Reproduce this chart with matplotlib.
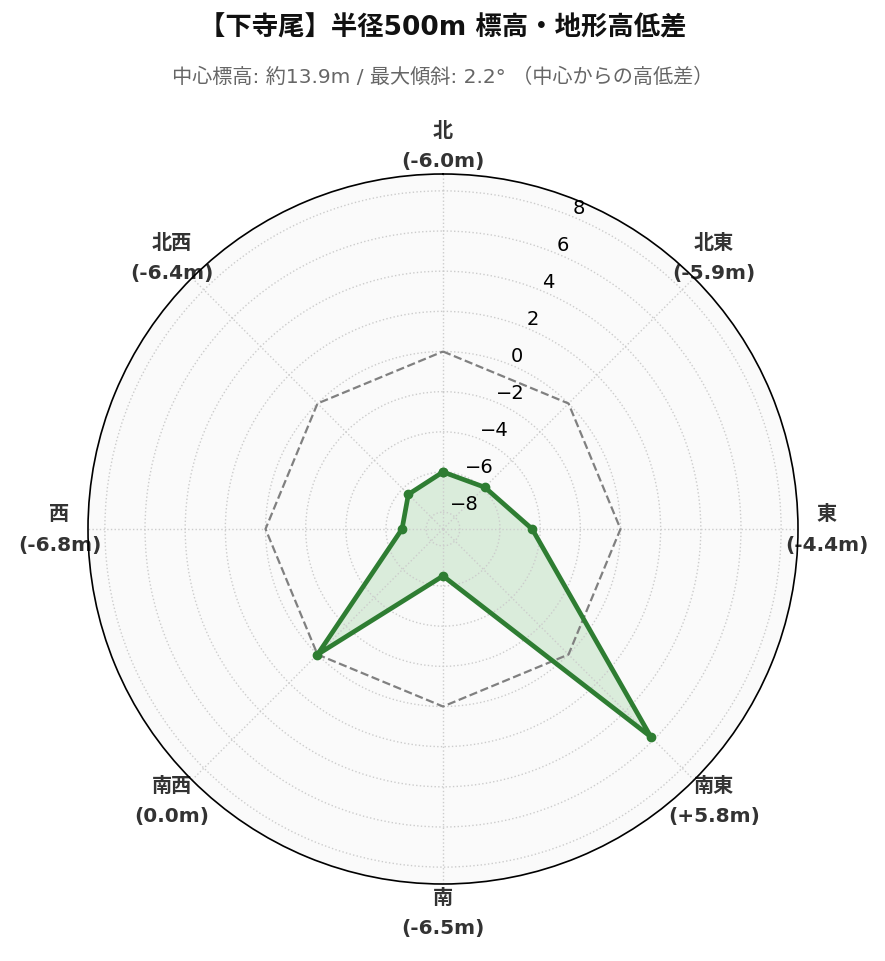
import numpy as np
import matplotlib
matplotlib.use("Agg")
import matplotlib.pyplot as plt

plt.rcParams['font.family'] = ['DejaVu Sans', 'Noto Sans CJK JP']

directions = ['北', '北東', '東', '南東', '南', '南西', '西', '北西']
diffs = [-6.0, -5.9, -4.4, 5.8, -6.5, 0.0, -6.8, -6.4]
rticks = [-8, -6, -4, -2, 0, 2, 4, 6, 8]
title = '【下寺尾】半径500m 標高・地形高低差'
subtitle = '中心標高: 約13.9m / 最大傾斜: 2.2° （中心からの高低差）'

fig = plt.figure(figsize=(8.85, 9.62), dpi=100)
ax = fig.add_axes([88/885, 77/962, 710/885, 710/962], projection='polar')
ax.set_theta_offset(np.pi/2)
ax.set_theta_direction(-1)
ax.set_facecolor('#fafafa')

n = len(directions)
angles = np.arange(n) * 2*np.pi/n
ang_c = np.append(angles, angles[0])
vals_c = np.append(diffs, diffs[0])

lim = max(abs(v) for v in diffs) * 1.3
ax.set_ylim(-lim, lim)

ax.plot(ang_c, np.zeros_like(ang_c), color='gray', linestyle='--', linewidth=1.6)
ax.fill(ang_c, vals_c, color='#4caf50', alpha=0.18)
ax.plot(ang_c, vals_c, color='#2e7d32', linewidth=3.4, marker='o', markersize=6)

ax.set_xticks(angles)
labels = [f"{d}\n({v:+.1f}m)" if v > 0 else f"{d}\n({v:.1f}m)" for d, v in zip(directions, diffs)]
ax.set_xticklabels(labels, fontsize=14.5, fontweight='bold', color='#333333', linespacing=1.75)
ax.tick_params(axis='x', pad=10)
ax.set_yticks(rticks)
ax.set_yticklabels([f"{t}".replace('-', '\u2212') for t in rticks], fontsize=14)
ax.set_rlabel_position(22.5)
ax.grid(True, color='#cccccc', linestyle=':', linewidth=1.0)
ax.spines['polar'].set_color('black')
ax.spines['polar'].set_linewidth(1.2)

fig.text(0.5, 1 - 28/962, title, ha='center', va='center', fontsize=19, fontweight='bold', color='#111111')
fig.text(0.5, 1 - 77/962, subtitle, ha='center', va='center', fontsize=14.5, color='#666666')

fig.savefig('out.png', dpi=100)
